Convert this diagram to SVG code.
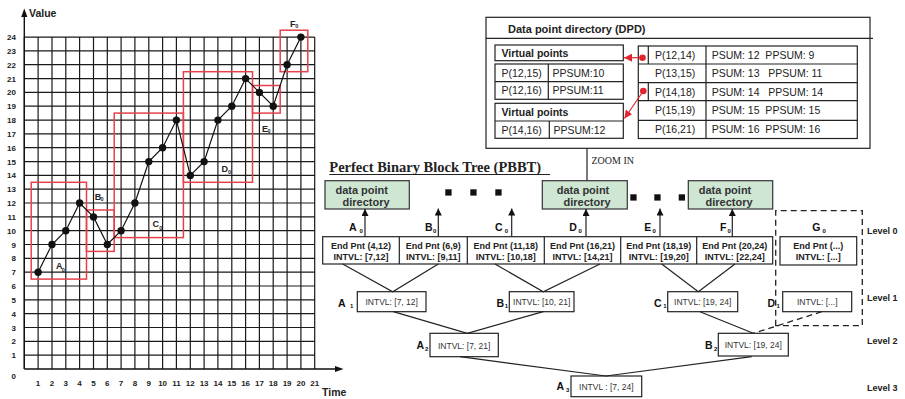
<svg xmlns="http://www.w3.org/2000/svg" width="905" height="399" viewBox="0 0 905 399">
<style>
.grid{stroke:#1a1a1a;stroke-width:1.2;fill:none}
.axis{stroke:#111;stroke-width:1.4;fill:none}
.red{stroke:#e6414b;stroke-width:1.5;fill:none}
.curve{stroke:#111;stroke-width:1.2;fill:none}
.dot{fill:#111}
.tk{font:bold 8px "Liberation Sans",Arial,sans-serif;fill:#222}
.axl{font:bold 10.5px "Liberation Sans",Arial,sans-serif;fill:#222}
.cl{font:bold 9px "Liberation Sans",Arial,sans-serif;fill:#222}
.cs{font:bold 5.5px "Liberation Sans",Arial,sans-serif;fill:#222}
.box{fill:#fff;stroke:#222;stroke-width:1.2}
.ln{stroke:#222;stroke-width:1.2;fill:none}
.dpd{font:10.5px "Liberation Sans",Arial,sans-serif;fill:#222;white-space:pre}
.dpdb{font:bold 10.5px "Liberation Sans",Arial,sans-serif;fill:#222}
.ttl{font:bold 11px "Liberation Sans",Arial,sans-serif;fill:#222}
.green{fill:#cfe6d3;stroke:#333;stroke-width:1.2}
.gt{font:bold 11px "Liberation Sans",Arial,sans-serif;fill:#333;text-anchor:middle}
.l0{font:bold 9px "Liberation Sans",Arial,sans-serif;fill:#222;text-anchor:middle}
.iv{font:8.5px "Liberation Sans",Arial,sans-serif;fill:#333;text-anchor:middle}
.nl{font:bold 10.5px "Liberation Sans",Arial,sans-serif;fill:#111}
.ns{font:bold 6px "Liberation Sans",Arial,sans-serif;fill:#111}
.lv{font:bold 9px "Liberation Sans",Arial,sans-serif;fill:#222}
.dash{stroke:#222;stroke-width:1.3;fill:none;stroke-dasharray:6,4}
.redline{stroke:#e0262e;stroke-width:1.2;fill:none}
</style>
<defs>
<marker id="ah" viewBox="0 0 8 8" refX="8" refY="4" markerWidth="7" markerHeight="7" markerUnits="userSpaceOnUse" orient="auto"><path d="M0,0L8,4L0,8z" fill="#111"/></marker>
<marker id="rah" viewBox="0 0 8 8" refX="8" refY="4" markerWidth="8" markerHeight="8" markerUnits="userSpaceOnUse" orient="auto"><path d="M0,0L8,4L0,8z" fill="#e0262e"/></marker>
</defs>

<g id="chart">
<path class="grid" d="M24.3 37.1V369M38.1 37.1V369M52 37.1V369M65.8 37.1V369M79.6 37.1V369M93.5 37.1V369M107.3 37.1V369M121.1 37.1V369M134.9 37.1V369M148.8 37.1V369M162.6 37.1V369M176.4 37.1V369M190.3 37.1V369M204.1 37.1V369M217.9 37.1V369M231.8 37.1V369M245.6 37.1V369M259.4 37.1V369M273.2 37.1V369M287.1 37.1V369M300.9 37.1V369M314.7 37.1V369
M24.3 355.2H314.7M24.3 341.3H314.7M24.3 327.5H314.7M24.3 313.7H314.7M24.3 299.9H314.7M24.3 286H314.7M24.3 272.2H314.7M24.3 258.4H314.7M24.3 244.5H314.7M24.3 230.7H314.7M24.3 216.9H314.7M24.3 203H314.7M24.3 189.2H314.7M24.3 175.4H314.7M24.3 161.6H314.7M24.3 147.7H314.7M24.3 133.9H314.7M24.3 120.1H314.7M24.3 106.2H314.7M24.3 92.4H314.7M24.3 78.6H314.7M24.3 64.7H314.7M24.3 50.9H314.7M24.3 37.1H314.7"/>
<path class="axis" d="M24.3 369V16M24.3 369H336"/>
<path d="M24.3 8.5L21.2 17L27.4 17Z" fill="#111"/>
<path d="M343.5 369L335 365.9L335 372.1Z" fill="#111"/>
<text class="axl" x="29" y="17">Value</text>
<text class="axl" x="322" y="396">Time</text>
<g text-anchor="end">
<text class="tk" x="16" y="379">0</text>
<text class="tk" x="16" y="358.2">1</text>
<text class="tk" x="16" y="344.3">2</text>
<text class="tk" x="16" y="330.5">3</text>
<text class="tk" x="16" y="316.7">4</text>
<text class="tk" x="16" y="302.9">5</text>
<text class="tk" x="16" y="289">6</text>
<text class="tk" x="16" y="275.2">7</text>
<text class="tk" x="16" y="261.4">8</text>
<text class="tk" x="16" y="247.5">9</text>
<text class="tk" x="16" y="233.7">10</text>
<text class="tk" x="16" y="219.9">11</text>
<text class="tk" x="16" y="206">12</text>
<text class="tk" x="16" y="192.2">13</text>
<text class="tk" x="16" y="178.4">14</text>
<text class="tk" x="16" y="164.6">15</text>
<text class="tk" x="16" y="150.7">16</text>
<text class="tk" x="16" y="136.9">17</text>
<text class="tk" x="16" y="123.1">18</text>
<text class="tk" x="16" y="109.2">19</text>
<text class="tk" x="16" y="95.4">20</text>
<text class="tk" x="16" y="81.6">21</text>
<text class="tk" x="16" y="67.7">22</text>
<text class="tk" x="16" y="53.9">23</text>
<text class="tk" x="16" y="40.1">24</text>
</g>
<g text-anchor="middle">
<text class="tk" x="38.1" y="386">1</text>
<text class="tk" x="52" y="386">2</text>
<text class="tk" x="65.8" y="386">3</text>
<text class="tk" x="79.6" y="386">4</text>
<text class="tk" x="93.5" y="386">5</text>
<text class="tk" x="107.3" y="386">6</text>
<text class="tk" x="121.1" y="386">7</text>
<text class="tk" x="134.9" y="386">8</text>
<text class="tk" x="148.8" y="386">9</text>
<text class="tk" x="162.6" y="386">10</text>
<text class="tk" x="176.4" y="386">11</text>
<text class="tk" x="190.3" y="386">12</text>
<text class="tk" x="204.1" y="386">13</text>
<text class="tk" x="217.9" y="386">14</text>
<text class="tk" x="231.8" y="386">15</text>
<text class="tk" x="245.6" y="386">16</text>
<text class="tk" x="259.4" y="386">17</text>
<text class="tk" x="273.2" y="386">18</text>
<text class="tk" x="287.1" y="386">19</text>
<text class="tk" x="300.9" y="386">20</text>
<text class="tk" x="314.7" y="386">21</text>
</g>
<rect class="red" x="31.2" y="182.3" width="55.3" height="96.8"/>
<rect class="red" x="86.5" y="210" width="27.7" height="41.4"/>
<rect class="red" x="114.2" y="113.1" width="69.2" height="124.5"/>
<rect class="red" x="183.4" y="71.7" width="69.1" height="110.6"/>
<rect class="red" x="252.5" y="85.5" width="27.7" height="27.6"/>
<rect class="red" x="280.2" y="30.2" width="27.6" height="41.5"/>
<polyline class="curve" points="38.1,272.2 52,244.5 65.8,230.7 79.6,203 93.5,216.9 107.3,244.5 121.1,230.7 134.9,203 148.8,161.6 162.6,147.7 176.4,120.1 190.3,175.4 204.1,161.6 217.9,120.1 231.8,106.2 245.6,78.6 259.4,92.4 273.2,106.2 287.1,64.7 300.9,37.1"/>
<g class="dot">
<circle cx="38.1" cy="272.2" r="3.7"/><circle cx="52" cy="244.5" r="3.7"/><circle cx="65.8" cy="230.7" r="3.7"/><circle cx="79.6" cy="203" r="3.7"/><circle cx="93.5" cy="216.9" r="3.7"/><circle cx="107.3" cy="244.5" r="3.7"/><circle cx="121.1" cy="230.7" r="3.7"/><circle cx="134.9" cy="203" r="3.7"/><circle cx="148.8" cy="161.6" r="3.7"/><circle cx="162.6" cy="147.7" r="3.7"/><circle cx="176.4" cy="120.1" r="3.7"/><circle cx="190.3" cy="175.4" r="3.7"/><circle cx="204.1" cy="161.6" r="3.7"/><circle cx="217.9" cy="120.1" r="3.7"/><circle cx="231.8" cy="106.2" r="3.7"/><circle cx="245.6" cy="78.6" r="3.7"/><circle cx="259.4" cy="92.4" r="3.7"/><circle cx="273.2" cy="106.2" r="3.7"/><circle cx="287.1" cy="64.7" r="3.7"/><circle cx="300.9" cy="37.1" r="3.7"/>
</g>
<text class="cl" x="56" y="269.3">A</text><text class="cs" x="61.8" y="272">0</text>
<text class="cl" x="94.8" y="200">B</text><text class="cs" x="100.6" y="201">0</text>
<text class="cl" x="152.6" y="226.7">C</text><text class="cs" x="159.3" y="229.5">0</text>
<text class="cl" x="221.5" y="172.3">D</text><text class="cs" x="228" y="173.5">0</text>
<text class="cl" x="262" y="131.7">E</text><text class="cs" x="267.5" y="132.5">0</text>
<text class="cl" x="290" y="26.7">F</text><text class="cs" x="295.3" y="27.5">0</text>
</g>

<g id="dpd">
<rect class="box" x="486" y="17.3" width="384" height="131"/>
<path class="ln" d="M486 38.3H873"/>
<text class="ttl" x="508" y="33">Data point directory (DPD)</text>
<rect class="box" x="495" y="45" width="128.3" height="15.7"/>
<text class="dpdb" x="501.5" y="56.6">Virtual points</text>
<rect class="box" x="495" y="64" width="128.3" height="35.3"/>
<path class="ln" d="M495 81.7H623.3M548.3 64V99.3"/>
<text class="dpd" x="501.5" y="76.6">P(12,15)</text><text class="dpd" x="552.5" y="76.6">PPSUM:10</text>
<text class="dpd" x="501.5" y="94.3">P(12,16)</text><text class="dpd" x="552.5" y="94.3">PPSUM:11</text>
<rect class="box" x="495" y="103.3" width="128.3" height="35"/>
<path class="ln" d="M495 121H623.3M549.3 121V138.3"/>
<text class="dpdb" x="501.5" y="116">Virtual points</text>
<text class="dpd" x="501.5" y="133.5">P(14,16)</text><text class="dpd" x="553.5" y="133.5">PPSUM:12</text>
<rect class="box" x="638.3" y="46" width="219" height="92.5"/>
<path class="ln" d="M638.3 64H857.3M638.3 82.7H857.3M638.3 100.7H857.3M638.3 120.3H857.3M706 46V138.5M648.3 46V64M648.3 82.7V100.7"/>
<text class="dpd" x="655" y="58.8">P(12,14)</text><text class="dpd" x="711.7" y="58.8">PSUM: 12  PPSUM: 9</text>
<text class="dpd" x="655" y="77.1">P(13,15)</text><text class="dpd" x="711.7" y="77.1">PSUM: 13   PPSUM: 11</text>
<text class="dpd" x="655" y="95.5">P(14,18)</text><text class="dpd" x="711.7" y="95.5">PSUM: 14   PPSUM: 14</text>
<text class="dpd" x="655" y="114.3">P(15,19)</text><text class="dpd" x="711.7" y="114.3">PSUM: 15  PPSUM: 15</text>
<text class="dpd" x="655" y="133.3">P(16,21)</text><text class="dpd" x="711.7" y="133.3">PSUM: 16  PPSUM: 16</text>
<circle cx="642.5" cy="57.7" r="3.3" fill="#e0262e"/>
<circle cx="643.3" cy="91" r="3.3" fill="#e0262e"/>
<path class="redline" d="M642.5 57.7H624" marker-end="url(#rah)"/>
<path class="redline" d="M643.3 91L624.5 118.5" marker-end="url(#rah)"/>
</g>

<g id="pbbt-title">
<text x="329.3" y="171.5" style="font:bold 14.5px 'Liberation Serif','Times New Roman',serif;fill:#222">Perfect Binary Block Tree (PBBT)</text>
<path class="ln" d="M329.3 174.5H550"/>
<text x="591.5" y="164" style="font:10px 'Liberation Serif','Times New Roman',serif;fill:#222">ZOOM IN</text>
</g>

<g id="dir-A0"><rect class="green" x="325" y="180.7" width="84.3" height="28.3"/><text class="gt" x="361.7" y="193.5">data point</text><text class="gt" x="366" y="205.5">directory</text></g>
<g id="dir-D0"><rect class="green" x="542.3" y="180.7" width="85" height="28.3"/><text class="gt" x="583" y="193.5">data point</text><text class="gt" x="587" y="205.5">directory</text></g>
<g id="dir-F0"><rect class="green" x="688.3" y="180.7" width="84.4" height="28.3"/><text class="gt" x="725" y="193.5">data point</text><text class="gt" x="729" y="205.5">directory</text></g>
<g id="dots" fill="#111">
<rect x="445.3" y="189.3" width="6.3" height="6.3"/><rect x="470.3" y="189.3" width="6.3" height="6.3"/><rect x="495.3" y="189.3" width="6.3" height="6.3"/>
<rect x="630.3" y="194.3" width="6.3" height="6.3"/><rect x="654.3" y="194.3" width="6.3" height="6.3"/><rect x="678.7" y="194.3" width="6.3" height="6.3"/>
</g>

<g id="level0">
<rect class="box" x="322.7" y="236.7" width="450" height="27.3"/>
<path class="ln" d="M399.3 236.7V264M467.3 236.7V264M544.3 236.7V264M620.7 236.7V264M696.7 236.7V264"/>
<text class="l0" x="361" y="248.5">End Pnt (4,12)</text><text class="l0" x="361" y="259.5">INTVL: [7,12]</text>
<text class="l0" x="433.3" y="248.5">End Pnt (6,9)</text><text class="l0" x="433.3" y="259.5">INTVL: [9,11]</text>
<text class="l0" x="505.8" y="248.5">End Pnt (11,18)</text><text class="l0" x="505.8" y="259.5">INTVL: [10,18]</text>
<text class="l0" x="582.5" y="248.5">End Pnt (16,21)</text><text class="l0" x="582.5" y="259.5">INTVL: [14,21]</text>
<text class="l0" x="658.7" y="248.5">End Pnt (18,19)</text><text class="l0" x="658.7" y="259.5">INTVL: [19,20]</text>
<text class="l0" x="734.7" y="248.5">End Pnt (20,24)</text><text class="l0" x="734.7" y="259.5">INTVL: [22,24]</text>
<text class="nl" x="349" y="230.7">A</text><text class="ns" x="359.5" y="233">0</text>
<text class="nl" x="425" y="230.7">B</text><text class="ns" x="433" y="233">0</text>
<text class="nl" x="495" y="230.7">C</text><text class="ns" x="504.8" y="233">0</text>
<text class="nl" x="569.3" y="230.7">D</text><text class="ns" x="578.5" y="233">0</text>
<text class="nl" x="644.3" y="230.7">E</text><text class="ns" x="652.5" y="233">0</text>
<text class="nl" x="720" y="230.7">F</text><text class="ns" x="727.5" y="233">0</text>
</g>
<g id="G0">
<rect class="box" x="780" y="236.7" width="76.7" height="28.3"/>
<text class="l0" x="818.3" y="248.5">End Pnt (...)</text><text class="l0" x="818.3" y="260">INTVL: [...]</text>
<text class="nl" x="812.3" y="230.7">G</text><text class="ns" x="822.5" y="233">0</text>
</g>
<g id="A1"><rect class="box" x="357.3" y="291.7" width="68.7" height="20"/><text class="iv" x="391.7" y="304.5">INTVL: [7, 12]</text><text class="nl" x="338" y="306.7">A</text><text class="ns" x="350" y="308">1</text></g>
<g id="B1"><rect class="box" x="509.3" y="291.7" width="64.7" height="20"/><text class="iv" x="541.7" y="304.5">INTVL: [10, 21]</text><text class="nl" x="496.5" y="306.7">B</text><text class="ns" x="504.8" y="308">1</text></g>
<g id="C1"><rect class="box" x="667.7" y="291.7" width="70" height="20"/><text class="iv" x="702.7" y="304.5">INTVL: [19, 24]</text><text class="nl" x="654" y="306.7">C</text><text class="ns" x="663.2" y="308">1</text></g>
<g id="D1"><rect class="box" x="782.7" y="291.7" width="69" height="20"/><text class="iv" x="817.2" y="304.5">INTVL: [...]</text><text class="nl" x="767.5" y="306.7">D</text><text class="ns" x="776.5" y="308">1</text></g>
<g id="A2"><rect class="box" x="430" y="333.3" width="68.3" height="23.4"/><text class="iv" x="464.2" y="348.5">INTVL: [7, 21]</text><text class="nl" x="416.5" y="349">A</text><text class="ns" x="425" y="350.5">2</text></g>
<g id="B2"><rect class="box" x="718.3" y="333.3" width="70" height="22.7"/><text class="iv" x="753.3" y="348">INTVL: [19, 24]</text><text class="nl" x="705" y="349">B</text><text class="ns" x="714" y="350.5">2</text></g>
<g id="A3"><rect class="box" x="571" y="376" width="70.7" height="20.7"/><text class="iv" x="606.3" y="389.5">INTVL : [7, 24]</text><text class="nl" x="556.5" y="390">A</text><text class="ns" x="566" y="392">3</text></g>
<g id="levels">
<text class="lv" x="867" y="234">Level  0</text>
<text class="lv" x="867" y="300.5">Level  1</text>
<text class="lv" x="867" y="344">Level  2</text>
<text class="lv" x="867" y="390.5">Level  3</text>
</g>

<g id="connectors">
<path class="ln" d="M587 148.3V180.7"/>
<path class="ln" marker-end="url(#ah)" d="M365 236.7V209"/>
<path class="ln" marker-end="url(#ah)" d="M438.3 236.7V208.5"/>
<path class="ln" marker-end="url(#ah)" d="M511.7 236.7V208.5"/>
<path class="ln" marker-end="url(#ah)" d="M586 236.7V209"/>
<path class="ln" marker-end="url(#ah)" d="M660 236.7V208.5"/>
<path class="ln" marker-end="url(#ah)" d="M732.3 236.7V209"/>
<path class="ln" d="M342.7 264L392.7 291.7L438.3 264M495 264L543.3 291.7L600 264M661.7 264L698.3 291.7L735 264"/>
<path class="ln" d="M393.3 311.7L467.3 333.3L543.3 311.7M700 311.7L753.3 333.3"/>
<path class="dash" d="M821.7 311.7L753.3 333.3"/>
<path class="ln" d="M460 356.7L606 376L751.7 356.7"/>
<path class="dash" d="M775.7 325.7V210.7H862.3V325.7Z"/>
</g>
</svg>
